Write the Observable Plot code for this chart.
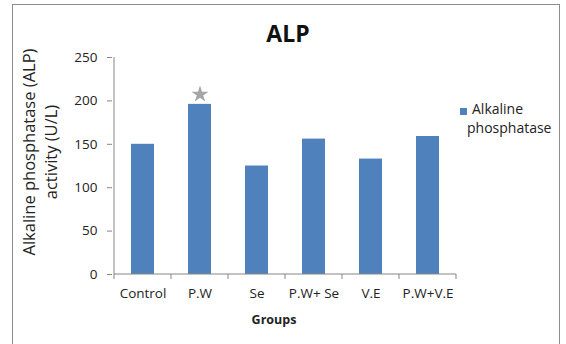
<!DOCTYPE html>
<html>
<head>
<meta charset="utf-8">
<script src="https://cdn.jsdelivr.net/npm/d3@7"></script>
<script src="https://cdn.jsdelivr.net/npm/@observablehq/plot@0.6"></script>
<style>
  html, body { margin: 0; padding: 0; background: #fff; }
  #chart {
    position: relative; width: 566px; height: 344px; overflow: hidden;
    font-family: "Open Sans", sans-serif; color: #111;
  }
  #chart svg { position: absolute; left: 0; top: 0; }
  .box {
    position: absolute; left: 12px; top: 4px; width: 548px; height: 360px;
    border: 1.5px solid #8c8c8c; box-sizing: border-box;
  }
  .title {
    position: absolute; left: 238px; width: 100px; top: 17px;
    text-align: center; font-weight: 700; font-size: 23px; line-height: 32px;
  }
  .ytitle {
    position: absolute; left: 40px; top: 152px; width: 240px;
    transform: translate(-50%, -50%) rotate(-90deg);
    text-align: center; font-size: 16.5px; line-height: 22px; color: #222;
  }
  .xtitle {
    position: absolute; left: 224px; width: 100px; top: 311px;
    text-align: center; font-weight: 700; font-size: 12.5px; line-height: 18px; color: #222;
  }
  .legend { position: absolute; font-size: 14px; color: #222; line-height: 19px; }
  .swatch { position: absolute; left: 460px; top: 108px; width: 7px; height: 7px; }
</style>
</head>
<body>
<div id="chart">
  <div class="box"></div>
</div>
<script>
// Alkaline phosphatase activity per treatment group
const groups = ["Control", "P.W", "Se", "P.W+ Se", "V.E", "P.W+V.E"];
const alp = [150, 196, 125, 156, 133, 159];
const yTicks = [0, 50, 100, 150, 200, 250];
const significant = ["P.W"];        // groups flagged with a star
const seriesName = ["Alkaline", "phosphatase"];

const barColor = "#4f81bd";
const axisColor = "#868686";

const rows = groups.map((g, i) => ({group: g, value: alp[i]}));

const plot = Plot.plot({
  width: 566,
  height: 344,
  marginLeft: 112,
  marginRight: 109,
  marginTop: 57,
  marginBottom: 70,
  style: {fontFamily: "Open Sans", fontSize: "13.5px", color: "#222", background: "transparent", overflow: "visible"},
  x: {domain: groups, paddingInner: 0.6, paddingOuter: 0.3, label: null},
  y: {domain: [0, 250], label: null},
  marks: [
    Plot.barY(rows, {x: "group", y: "value", fill: barColor}),
    Plot.dot(rows.filter(d => significant.includes(d.group)),
      {x: "group", y: "value", dy: -10, symbol: "star", r: 5.3, fill: "#a6a6a6"}),
    Plot.axisY({ticks: yTicks, tickSize: 5, tickPadding: 10, stroke: axisColor, label: null}),
    Plot.axisX({tickSize: 0, tickPadding: 14, label: null})
  ]
});

// Axis lines and category-boundary ticks, placed from the plot's own scales
const xs = plot.scale("x"), ys = plot.scale("y");
const gap = xs.step - xs.bandwidth;
const first = xs.apply(groups[0]) - gap / 2;
const bounds = d3.range(groups.length + 1).map(i => first + i * xs.step);
const y0 = ys.apply(0), yTop = ys.apply(yTicks[yTicks.length - 1]);
const g = d3.select(plot).append("g").attr("stroke", axisColor).attr("stroke-width", 1);
g.append("line").attr("x1", bounds[0]).attr("x2", bounds[0]).attr("y1", yTop).attr("y2", y0);
g.append("line").attr("x1", bounds[0]).attr("x2", bounds[bounds.length - 1]).attr("y1", y0).attr("y2", y0);
g.selectAll(null).data(bounds).join("line")
  .attr("x1", d => d).attr("x2", d => d).attr("y1", y0).attr("y2", y0 + 5);

const chart = document.getElementById("chart");
chart.appendChild(plot);

// Title, axis titles and legend
const add = (cls, html, css) => {
  const el = document.createElement("div");
  el.className = cls;
  el.innerHTML = html;
  if (css) Object.assign(el.style, css);
  chart.appendChild(el);
  return el;
};
add("title", "ALP");
add("ytitle", "Alkaline phosphatase (ALP)<br>activity (U/L)");
add("xtitle", "Groups");
add("swatch", "", {background: barColor});
add("legend", seriesName[0], {left: "472px", top: "99px"});
add("legend", seriesName[1], {left: "467px", top: "118px"});
</script>
</body>
</html>
